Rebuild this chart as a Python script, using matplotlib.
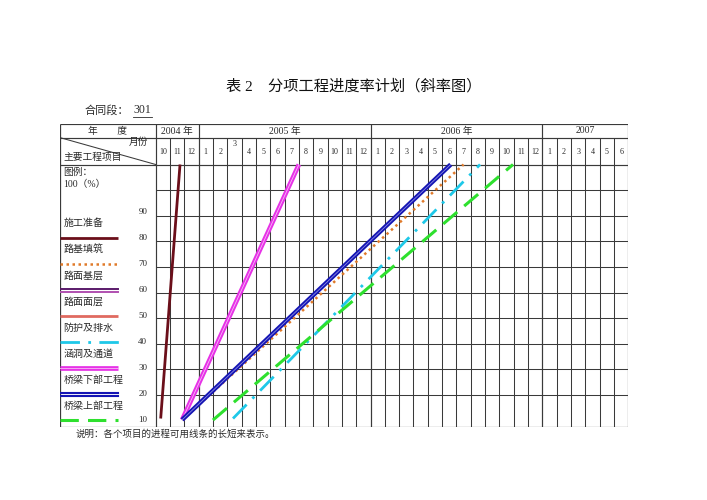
import matplotlib
matplotlib.use("Agg")
import matplotlib.pyplot as plt
from matplotlib.lines import Line2D

plt.rcParams['font.family'] = ['Liberation Serif', 'Noto Sans CJK SC', 'DejaVu Sans']

# header data
years = ['2004 年', '2005 年', '2006 年', '2007']
year_months = [[10, 11, 12],
               [1, 2, 3, 4, 5, 6, 7, 8, 9, 10, 11, 12],
               [1, 2, 3, 4, 5, 6, 7, 8, 9, 10, 11, 12],
               [1, 2, 3, 4, 5, 6]]
pct_labels = [10, 20, 30, 40, 50, 60, 70, 80, 90]

# legend items (all eight work items)
legend_names = ['施工准备', '路基填筑', '路面基层', '路面面层',
                '防护及排水', '涵洞及通道', '桥梁下部工程', '桥梁上部工程']

# slope lines drawn in the chart: month column index (0 = Oct 2004) and percent
line_names = ['施工准备', '路基填筑', '防护及排水', '涵洞及通道', '桥梁下部工程', '桥梁上部工程']
start_month = [0.35, 1.85, 5.4, 1.85, 1.85, 4.0]
end_month = [1.70, 21.5, 22.65, 10.0, 20.6, 24.95]
start_pct = [0.8, 0.3, 0.8, 0.3, 0.3, 0.2]
end_pct = [100, 100, 100, 100, 100, 100]

styles = {
    '施工准备': dict(color='#6b0f1a', lw=2.0, ls='-'),
    '路基填筑': dict(color='#e07a2a', lw=1.8, ls=(0, (1, 1.4))),
    '路面基层': dict(color='#5a1a6a', lw=1.4, ls='-', double='#b050b0'),
    '路面面层': dict(color='#e06a60', lw=2.0, ls='-'),
    '防护及排水': dict(color='#1ec8e8', lw=2.0, ls=(0, (7, 3, 1, 3))),
    '涵洞及通道': dict(color='#e632e6', lw=3.4, ls='-', inner='#f8b8f8'),
    '桥梁下部工程': dict(color='#1414b4', lw=3.2, ls='-', inner='#8c8ce0'),
    '桥梁上部工程': dict(color='#2ee02e', lw=2.2, ls=(0, (6, 3))),
}

fig = plt.figure(figsize=(7.07, 5.0), dpi=100)
fig.patch.set_facecolor('white')

# table axes: x in month columns, y in percent (header rows above 100)
LW = 6.68
Y_BOT, Y_MON, Y_TOP = -2.4, 110.5, 115.7
ax = fig.add_axes([60 / 707, 1 - 426.7 / 500, 568.3 / 707, 302.4 / 500])
ax.set_xlim(-LW, 33)
ax.set_ylim(Y_BOT, Y_TOP)
ax.axis('off')

gc = '#3a3a3a'
n_cols = sum(len(m) for m in year_months)
# vertical grid
ax.vlines(range(1, n_cols), Y_BOT, Y_MON, color=gc, lw=0.75)
edges = [0]
for m in year_months:
    edges.append(edges[-1] + len(m))
ax.vlines(edges, Y_BOT, Y_TOP, color=gc, lw=0.85)
ax.vlines([-LW], Y_BOT, Y_TOP, color=gc, lw=0.9)
# horizontal grid
ax.hlines([10, 20, 30, 40, 50, 60, 70, 80, 90], 0, n_cols, color=gc, lw=0.75)
ax.hlines([Y_BOT, 100, Y_MON, Y_TOP], -LW, n_cols, color=gc, lw=0.85)
ax.plot([-LW, 0], [Y_MON, 100], color=gc, lw=0.75)

tc = '#2a2a2a'
# header text
ax.text(-3.35, 113.1, '年　　度', ha='center', va='center', fontsize=7, color=tc)
ax.text(-1.2, 108.6, '月份', ha='center', va='center', fontsize=7, color=tc)
ax.text(-6.45, 102.9, '主要工程项目', ha='left', va='center', fontsize=7, color=tc)
col = 0
for yr, months in zip(years, year_months):
    ax.text(col + len(months) / 2, 113.1, yr, ha='center', va='center', fontsize=7, color=tc)
    for m in months:
        yy = 107.9 if (yr == '2005 年' and m == 3) else 105.0
        ax.text(col + 0.5, yy, str(m), ha='center', va='center', fontsize=5.8, color=tc)
        col += 1

# label column
ax.text(-6.45, 97.1, '图例：', ha='left', va='center', fontsize=7, color=tc)
ax.text(-6.45, 92.4, '100（%）', ha='left', va='center', fontsize=7, color=tc)
for k in pct_labels:
    ax.text(-0.9, (k - 10) * 1.015 + 0.3, str(k), ha='center', va='center', fontsize=6.5, color=tc)


def draw(xs, ys, st):
    ax.plot(xs, ys, color=st['color'], lw=st['lw'], ls=st['ls'],
            solid_capstyle='butt', clip_on=False)
    if 'inner' in st:
        ax.plot(xs, ys, color=st['inner'], lw=0.6, clip_on=False)


for i, name in enumerate(legend_names):
    ty = 77.0 - 10.2 * i
    ly = 71.2 - 10.15 * i
    ax.text(-6.45, ty, name, ha='left', va='center', fontsize=7.2, color=tc)
    st = styles[name]
    if 'double' in st:
        ax.plot([-LW, -2.63], [ly + 0.6, ly + 0.6], color=st['color'], lw=st['lw'])
        ax.plot([-LW, -2.63], [ly - 0.6, ly - 0.6], color=st['double'], lw=st['lw'])
    elif name == '桥梁下部工程':
        ax.plot([-LW, -2.63], [ly + 0.6, ly + 0.6], color=st['color'], lw=1.5)
        ax.plot([-LW, -2.63], [ly - 0.6, ly - 0.6], color=st['color'], lw=1.5)
    else:
        draw([-LW, -2.4 if name == '防护及排水' else -2.63], [ly, ly], st)

for name, x0, x1, y0, y1 in zip(line_names, start_month, end_month, start_pct, end_pct):
    draw([x0, x1], [y0, y1], styles[name])

# title and notes
fig.text(0.5, 1 - 86.7 / 500, '表 2　分项工程进度率计划（斜率图）', ha='center', va='center',
         fontsize=11, color='#111111', weight='medium',
         family=['Liberation Serif', 'Noto Sans CJK SC'])
fig.text(85 / 707, 1 - 110 / 500, '合同段：', ha='left', va='center', fontsize=8, color=tc)
fig.text(133 / 707, 1 - 110 / 500, '301', ha='left', va='center', fontsize=8.5, color=tc)
fig.add_artist(Line2D([133 / 707, 152 / 707], [1 - 117 / 500, 1 - 117 / 500], color=tc, lw=0.6))
fig.text(76 / 707, 1 - 434 / 500, '说明：各个项目的进程可用线条的长短来表示。', ha='left', va='center',
         fontsize=6.8, color=tc)

fig.savefig('out.png', dpi=100)
